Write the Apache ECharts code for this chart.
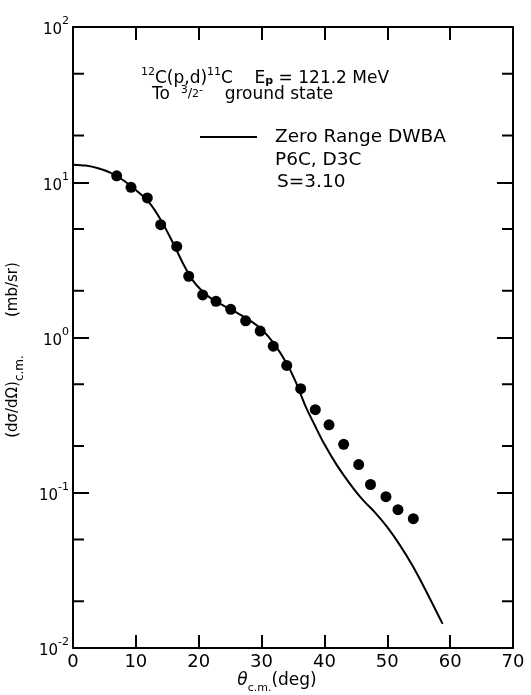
<!DOCTYPE html>
<html><head><meta charset="utf-8">
<script src="https://cdn.jsdelivr.net/npm/echarts@6/dist/echarts.min.js"></script>
<style>html,body{margin:0;padding:0;background:#fff}#c{width:531px;height:695px}</style>
</head><body><div id="c"></div>
<script>
// Experimental data: 12C(p,d)11C, Ep = 121.2 MeV, 3/2- ground state
const expAngles = [6.95, 9.23, 11.82, 13.95, 16.5, 18.41, 20.63, 22.75, 25.09, 27.47, 29.78, 31.86, 34.0, 36.22, 38.55, 40.73, 43.06, 45.45, 47.33, 49.79, 51.7, 54.14];
const expCross  = [11.0, 9.27, 7.92, 5.33, 3.86, 2.48, 1.88, 1.71, 1.52, 1.28, 1.10, 0.879, 0.661, 0.468, 0.343, 0.274, 0.205, 0.152, 0.113, 0.0943, 0.0778, 0.0681];
// Zero Range DWBA curve (P6C, D3C, S = 3.10)
const dwbaAngles = [0, 2, 4, 6, 8, 10, 12, 14, 16, 17.5, 19, 20.5, 22, 24, 26, 28, 30, 32, 34, 35.5, 37, 38.5, 40, 42, 44, 46, 48, 50, 52, 54, 56, 58.8];
const dwbaCross  = [12.97, 12.8, 12.3, 11.5, 10.3, 8.9, 7.5, 5.7, 4.0, 3.0, 2.35, 2.0, 1.78, 1.6, 1.45, 1.3, 1.13, 0.91, 0.68, 0.51, 0.36, 0.27, 0.205, 0.15, 0.115, 0.091, 0.075, 0.06, 0.046, 0.034, 0.024, 0.0143];
// Axis ticks
const xTickLabels = [0, 10, 20, 30, 40, 50, 60, 70];
const yDecades = [0.01, 0.1, 1, 10, 100];
const yMinorTicks = [0.02, 0.05, 0.2, 0.5, 2, 5, 20, 50];

const FONT = 'DejaVu Sans';
const chart = echarts.init(document.getElementById('c'));

const axisLineStyle = { color: '#000', width: 2 };
function xAxisDef(pos, showLabel) {
  return {
    type: 'value', position: pos, min: xTickLabels[0], max: xTickLabels[xTickLabels.length - 1], interval: 10,
    axisLine: { show: true, onZero: false, lineStyle: axisLineStyle },
    axisTick: { show: true, inside: true, length: 13, lineStyle: { color: '#000', width: 2 } },
    axisLabel: { show: showLabel, fontSize: 18, color: '#000', fontFamily: FONT, margin: 5 },
    splitLine: { show: false }
  };
}
function yAxisDef(pos, showLabel) {
  return {
    type: 'log', logBase: 10, position: pos, min: yDecades[0], max: yDecades[yDecades.length - 1],
    axisLine: { show: true, onZero: false, lineStyle: axisLineStyle },
    axisTick: { show: true, inside: true, length: 16, lineStyle: { color: '#000', width: 2 } },
    axisLabel: {
      show: showLabel, margin: 4, showMinLabel: true, showMaxLabel: true,
      formatter: function (v) {
        const e = Math.round(Math.log10(v));
        return '{b|10}{s|' + (e < 0 ? '-' : '') + Math.abs(e) + '}';
      },
      rich: {
        b: { fontSize: 15, fontFamily: FONT, color: '#000', lineHeight: 22, verticalAlign: 'bottom' },
        s: { fontSize: 11, fontFamily: FONT, color: '#000', lineHeight: 22, verticalAlign: 'top' }
      }
    },
    splitLine: { show: false }, minorTick: { show: false }
  };
}

const option = {
  animation: false,
  backgroundColor: '#fff',
  grid: { left: 73, right: 18, top: 27, bottom: 47, containLabel: false },
  xAxis: [xAxisDef('bottom', true), xAxisDef('top', false)],
  yAxis: [yAxisDef('left', true), yAxisDef('right', false)],
  series: [
    {
      type: 'custom', xAxisIndex: 0, yAxisIndex: 0, silent: true, clip: false, z: 5,
      data: yMinorTicks.map(v => [xTickLabels[0], v]),
      encode: { x: 0, y: 1 },
      renderItem: function (params, api) {
        const v = api.value(1);
        const pL = api.coord([xTickLabels[0], v]);
        const pR = api.coord([xTickLabels[xTickLabels.length - 1], v]);
        return {
          type: 'group', children: [
            { type: 'line', shape: { x1: pL[0], y1: pL[1], x2: pL[0] + 11, y2: pL[1] }, style: { stroke: '#000', lineWidth: 2 } },
            { type: 'line', shape: { x1: pR[0], y1: pR[1], x2: pR[0] - 11, y2: pR[1] }, style: { stroke: '#000', lineWidth: 2 } }
          ]
        };
      }
    },
    {
      name: 'Zero Range DWBA', type: 'line', smooth: 0.3, showSymbol: false, symbol: 'none',
      data: dwbaAngles.map((a, i) => [a, dwbaCross[i]]),
      lineStyle: { color: '#000', width: 2 }, z: 3
    },
    {
      name: 'data', type: 'scatter', symbol: 'circle', symbolSize: 11,
      data: expAngles.map((a, i) => [a, expCross[i]]),
      itemStyle: { color: '#000', opacity: 1 }, z: 4
    }
  ],
  graphic: [
    { type: 'text', x: 141, y: 77, style: {
        text: '{s|12}{n|C(p,d)}{s|11}{n|C    E}{u|p}{n| = 121.2 MeV}',
        verticalAlign: 'middle', align: 'left',
        rich: {
          n: { fontSize: 17, fontFamily: FONT, fill: '#000', lineHeight: 20, verticalAlign: 'bottom' },
          s: { fontSize: 11, fontFamily: FONT, fill: '#000', lineHeight: 20, verticalAlign: 'top' },
          u: { fontSize: 11, fontFamily: FONT, fill: '#000', lineHeight: 14, verticalAlign: 'bottom', fontWeight: 'bold' }
        } } },
    { type: 'text', x: 152, y: 94, style: {
        text: '{n|To  }{s|3}{f|/}{d|2}{s|-}{n|    ground state}',
        verticalAlign: 'middle', align: 'left',
        rich: {
          n: { fontSize: 17, fontFamily: FONT, fill: '#000', lineHeight: 18, verticalAlign: 'bottom' },
          s: { fontSize: 11, fontFamily: FONT, fill: '#000', lineHeight: 18, verticalAlign: 'top' },
          f: { fontSize: 13, fontFamily: FONT, fill: '#000', lineHeight: 18, verticalAlign: 'middle' },
          d: { fontSize: 11, fontFamily: FONT, fill: '#000', lineHeight: 16, verticalAlign: 'middle' }
        } } },
    { type: 'line', shape: { x1: 200, y1: 137, x2: 257, y2: 137 }, style: { stroke: '#000', lineWidth: 2 } },
    { type: 'text', x: 275, y: 137, style: { text: 'Zero Range DWBA', fontSize: 18.5, fontFamily: FONT, fill: '#000', verticalAlign: 'middle' } },
    { type: 'text', x: 275, y: 160, style: { text: 'P6C, D3C', fontSize: 18.5, fontFamily: FONT, fill: '#000', verticalAlign: 'middle' } },
    { type: 'text', x: 277, y: 182, style: { text: 'S=3.10', fontSize: 18.5, fontFamily: FONT, fill: '#000', verticalAlign: 'middle' } },
    { type: 'text', x: 277, y: 683, style: {
        text: '{t|θ}{u|c.m.}{n|(deg)}', align: 'center', verticalAlign: 'middle',
        rich: {
          t: { fontSize: 17, fontFamily: FONT, fontStyle: 'italic', fill: '#000', lineHeight: 22, verticalAlign: 'top' },
          u: { fontSize: 11, fontFamily: FONT, fill: '#000', lineHeight: 22, verticalAlign: 'bottom' },
          n: { fontSize: 17, fontFamily: FONT, fill: '#000', lineHeight: 22, verticalAlign: 'top' }
        } } },
    { type: 'text', x: 16, y: 350, rotation: Math.PI / 2, style: {
        text: '{n|(dσ/dΩ)}{u|c.m.}{n|        (mb/sr)}', align: 'center', verticalAlign: 'middle',
        rich: {
          n: { fontSize: 15, fontFamily: FONT, fill: '#000', lineHeight: 20, verticalAlign: 'top' },
          u: { fontSize: 12, fontFamily: FONT, fill: '#000', lineHeight: 20, verticalAlign: 'bottom' }
        } } }
  ]
};
chart.setOption(option);
</script>
</body></html>
